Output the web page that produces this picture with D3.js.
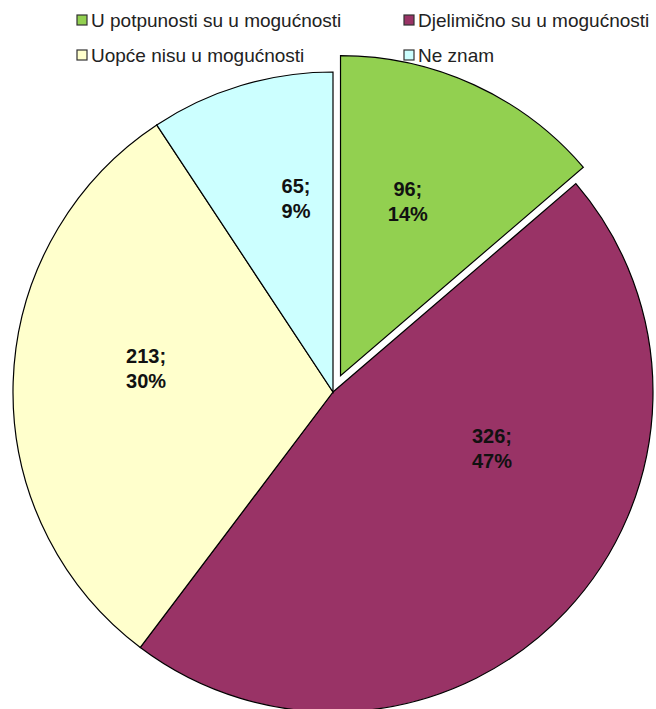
<!DOCTYPE html>
<html>
<head>
<meta charset="utf-8">
<script src="https://cdn.jsdelivr.net/npm/d3@7/dist/d3.min.js"></script>
<style>
  html, body { margin: 0; padding: 0; background: #fff; }
  svg { display: block; }
</style>
</head>
<body>
<svg id="chart" width="656" height="709"></svg>
<script>
// ---- data ----
const categories = ["U potpunosti su u mogućnosti", "Djelimično su u mogućnosti", "Uopće nisu u mogućnosti", "Ne znam"];
const values = [96, 326, 213, 65];
const percentLabels = ["14%", "47%", "30%", "9%"];
const colors = ["#92D050", "#993366", "#FFFFCC", "#CCFFFF"];

// ---- layout ----
const W = 656, H = 709;
const cx = 333, cy = 392, R = 320;
const explode = [18, 0, 0, 0];
// label placement (polar, degrees clockwise from top, distance from slice centre)
const labelAngle = [21.1, 109.4, 277.3, 349.2];
const labelDist = [187, 168.6, 188.5, 197.5];

const svg = d3.select("#chart");
svg.append("rect").attr("width", W).attr("height", H).attr("fill", "#fff");

const pie = d3.pie().sort(null).value(d => d).startAngle(0).endAngle(2 * Math.PI);
const arcs = pie(values);
const arc = d3.arc().innerRadius(0).outerRadius(R);

const g = svg.append("g").attr("transform", `translate(${cx},${cy})`);

arcs.forEach((a, i) => {
  const mid = (a.startAngle + a.endAngle) / 2;
  const ox = explode[i] * Math.sin(mid), oy = -explode[i] * Math.cos(mid);
  const sg = g.append("g").attr("transform", `translate(${ox},${oy})`);
  sg.append("path")
    .attr("d", arc(a))
    .attr("fill", colors[i])
    .attr("stroke", "#000")
    .attr("stroke-width", 1.2)
    .attr("stroke-linejoin", "miter");
  const la = labelAngle[i] * Math.PI / 180;
  const lx = labelDist[i] * Math.sin(la), ly = -labelDist[i] * Math.cos(la);
  const t = sg.append("text")
    .attr("text-anchor", "middle")
    .attr("font-family", "Liberation Sans, Arial, sans-serif")
    .attr("font-weight", "bold")
    .attr("font-size", 20)
    .attr("fill", "#111");
  t.append("tspan").attr("x", lx).attr("y", ly - 5.5).text(values[i] + ";");
  t.append("tspan").attr("x", lx).attr("y", ly + 19.5).text(percentLabels[i]);
});

// ---- legend ----
const legendPos = [[77, 27], [404, 27], [77, 62], [404, 62]];
categories.forEach((c, i) => {
  const [x, y] = legendPos[i];
  svg.append("rect")
    .attr("x", x).attr("y", y - 12).attr("width", 10).attr("height", 10)
    .attr("fill", colors[i]).attr("stroke", "#333").attr("stroke-width", 1.2);
  svg.append("text")
    .attr("x", x + 14).attr("y", y)
    .attr("font-family", "Liberation Sans, Arial, sans-serif")
    .attr("font-size", 19)
    .attr("fill", "#222")
    .text(c);
});
</script>
</body>
</html>
